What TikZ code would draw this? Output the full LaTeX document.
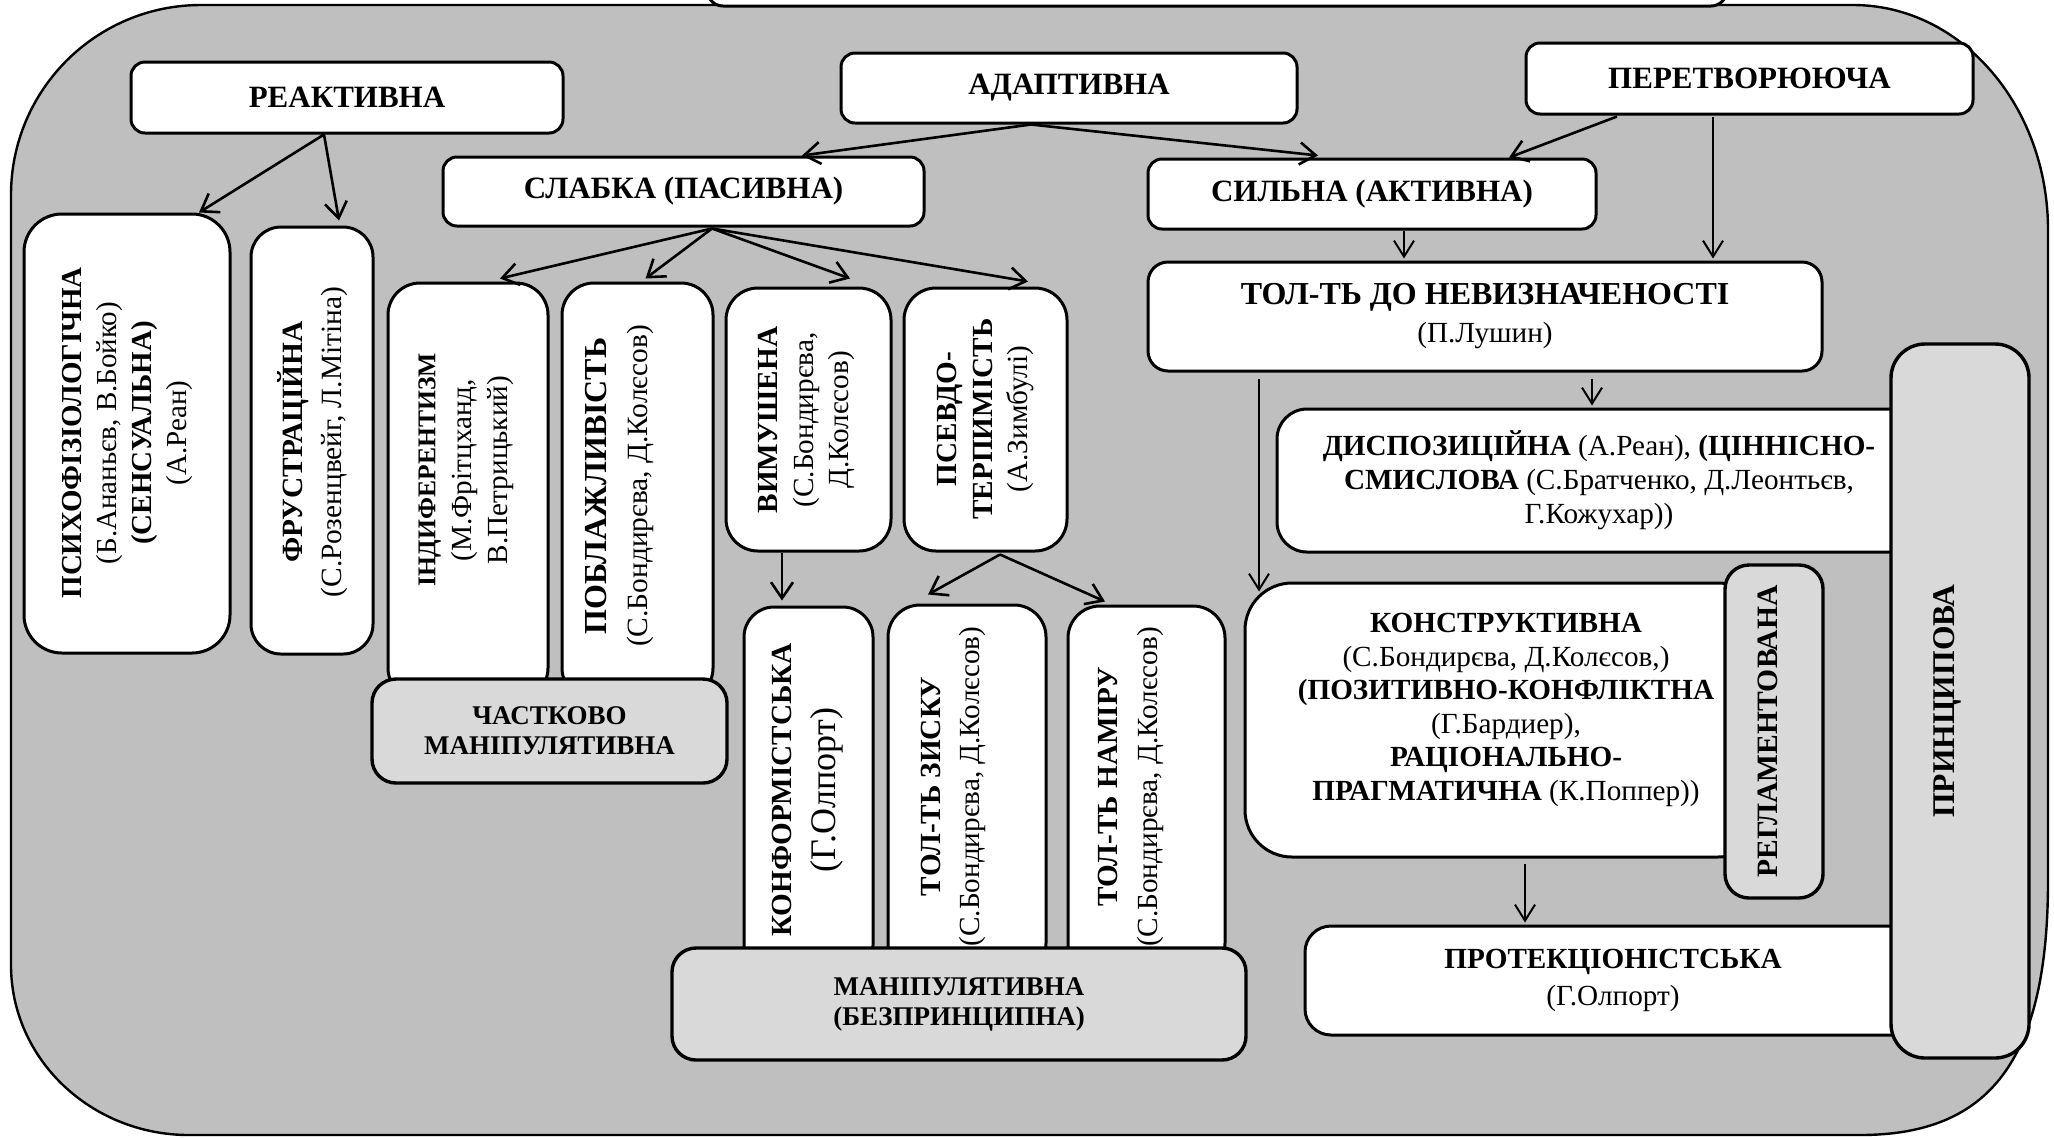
\documentclass[tikz,border=0pt]{standalone}
\usepackage{fontspec}
\usepackage{graphicx}
\setmainfont{Liberation Serif}
\usetikzlibrary{arrows.meta,calc}

\definecolor{fieldgray}{HTML}{BFBFBF}
\definecolor{panelgray}{HTML}{D9D9D9}

\newcommand\hdfont{\fontsize{15.5}{19}\selectfont\bfseries}
\newcommand\txfont{\fontsize{14.6}{17}\selectfont}

\tikzset{
  sz/.style 2 args={minimum width=#1*0.5pt, minimum height=#2*0.5pt},
  rc/.style={rounded corners=#1*0.5pt},
  box/.style={draw, line width=1.5pt, fill=white, inner sep=0pt, align=center},
  panel/.style={box, fill=panelgray, line width=1.7pt},
  vtext/.style={rotate=90, inner sep=0pt, align=center},
  arr/.style={-{Straight Barb[length=8pt,width=11pt]}, line width=1.3pt},
  arrthin/.style={-{Straight Barb[length=8pt,width=10pt]}, line width=1pt},
}

\begin{document}
\begin{tikzpicture}[x=0.5pt,y=-0.5pt]
\useasboundingbox (0,0) rectangle (2054,1137);
\begin{scope}
\clip (0,0) rectangle (2054,1137);

% grey field with unequal rounded corners
\draw[line width=1.2pt, fill=fieldgray]
  (201,5) -- (1853,5) .. controls (1961,5) and (2048,106) .. (2048,230)
  -- (2048,880) .. controls (2048,1060) and (1990,1135) .. (1860,1135)
  -- (189,1135) .. controls (91,1135) and (11,1059) .. (11,965)
  -- (11,195) .. controls (11,90) and (96,5) .. (201,5) -- cycle;

% title box, cut by the upper edge
\node[box, sz={1020}{60}, rc=16] (title) at (1217,-24) {};

% upper level
\node[box, sz={432}{71}, rc=14, font=\hdfont] (reak) at (347,97.5) {РЕАКТИВНА};
\node[box, sz={456}{70}, rc=14, font=\hdfont] (adapt) at (1069,88) {АДАПТИВНА};
\node[box, sz={447}{71}, rc=14, font=\hdfont] (pere) at (1749.5,78.5) {ПЕРЕТВОРЮЮЧА};
\node[box, sz={481}{69}, rc=14, font=\hdfont] (slab) at (683.5,191.5) {СЛАБКА (ПАСИВНА)};
\node[box, sz={448}{70}, rc=14, font=\hdfont] (syl) at (1372,194) {СИЛЬНА (АКТИВНА)};
\node[box, sz={674}{109}, rc=20, font=\fontsize{14.6}{19}\selectfont] (tol) at (1485,316.5)
  {{\fontsize{16}{19}\selectfont\bfseries ТОЛ-ТЬ ДО НЕВИЗНАЧЕНОСТІ}\\(П.Лушин)};

% reactive branch
\node[box, sz={206}{439}, rc=38] (psy) at (127,433.5) {};
\node[vtext, font=\fontsize{14.5}{17.5}\selectfont] (psy-t) at (127,433)
  {\textbf{ПСИХОФІЗІОЛОГІЧНА}\\(Б.Ананьєв, В.Бойко)\\\textbf{(СЕНСУАЛЬНА)}\\(А.Реан)};
\node[box, sz={122}{427}, rc=30] (fru) at (312,440.5) {};
\node[vtext, font=\fontsize{14.7}{19.5}\selectfont] (fru-t) at (312.5,442)
  {\textbf{ФРУСТРАЦІЙНА}\\(С.Розенцвейг, Л.Мітіна)};

% weak (passive) branch
\node[box, sz={160}{417}, rc=32] (ind) at (468,491.5) {};
\node[vtext, font=\fontsize{14.6}{18}\selectfont] (ind-t) at (466,470)
  {{\fontsize{12.8}{18}\selectfont\bfseries ІНДИФЕРЕНТИЗМ}\\(М.Фрітцханд,\\В.Петрицький)};
\node[box, sz={151}{417}, rc=32] (pob) at (637.5,491.5) {};
\node[vtext, font=\fontsize{14.7}{20.5}\selectfont] (pob-t) at (620,486)
  {{\fontsize{16}{20.5}\selectfont\bfseries ПОБЛАЖЛИВІСТЬ}\\(С.Бондирєва, Д.Колєсов)};
\node[panel, sz={355}{104}, rc=24, font=\fontsize{13.5}{15}\selectfont\bfseries] (chast) at (549.5,731)
  {ЧАСТКОВО\\МАНІПУЛЯТИВНА};

\node[box, sz={165}{263}, rc=32] (vym) at (808.5,419.5) {};
\node[vtext, font=\fontsize{14.6}{17.75}\selectfont] (vym-t) at (806.5,420)
  {\textbf{ВИМУШЕНА}\\(С.Бондирєва,\\Д.Колєсов)};
\node[box, sz={163}{263}, rc=32] (psev) at (985.5,419.5) {};
\node[vtext, font=\fontsize{14.6}{17.75}\selectfont] (psev-t) at (985.5,419)
  {\textbf{ПСЕВДО-}\\\textbf{ТЕРПИМІСТЬ}\\(А.Зимбулі)};

\node[box, sz={129}{368}, rc=30] (konf) at (808.5,791) {};
\node[vtext, font=\fontsize{14.6}{22}\selectfont] (konf-t) at (808,790)
  {\textbf{КОНФОРМІСТСЬКА}\\{\fontsize{18}{22}\selectfont(Г.Олпорт)}};
\node[box, sz={158}{370}, rc=32] (zysk) at (967,790) {};
\node[vtext, font=\fontsize{14.6}{19.5}\selectfont] (zysk-t) at (953,786.5)
  {\textbf{ТОЛ-ТЬ ЗИСКУ}\\(С.Бондирєва, Д.Колєсов)};
\node[box, sz={157}{369}, rc=32] (namir) at (1146.5,790.5) {};
\node[vtext, font=\fontsize{14.6}{20}\selectfont] (namir-t) at (1131,787)
  {\textbf{ТОЛ-ТЬ НАМІРУ}\\(С.Бондирєва, Д.Колєсов)};
\node[panel, sz={574}{112}, rc=24, font=\fontsize{13.5}{15}\selectfont\bfseries] (manip) at (959,1004)
  {МАНІПУЛЯТИВНА\\(БЕЗПРИНЦИПНА)};

% strong (active) branch
\node[box, sz={644}{143}, rc=30, font=\txfont] (disp) at (1599,480.5)
  {{\bfseries ДИСПОЗИЦІЙНА} (А.Реан), {\bfseries (ЦІННІСНО-}\\{\bfseries СМИСЛОВА} (С.Братченко, Д.Леонтьєв,\\Г.Кожухар))};
\node[box, sz={520}{274}, rc=47] (konstr) at (1505,720) {};
\node[inner sep=0pt, align=center, font=\fontsize{14.6}{16.8}\selectfont] (konstr-t) at (1506,710)
  {\textbf{КОНСТРУКТИВНА}\\(С.Бондирєва, Д.Колєсов,)\\\textbf{(ПОЗИТИВНО-КОНФЛІКТНА}\\(Г.Бардиер),\\\textbf{РАЦІОНАЛЬНО-}\\\textbf{ПРАГМАТИЧНА} (К.Поппер))};
\node[panel, sz={98}{333}, rc=24] (reg) at (1774,731.5) {};
\node[vtext, font=\fontsize{14.8}{18}\selectfont\bfseries] (reg-t) at (1768,731.5) {РЕГЛАМЕНТОВАНА};
\node[box, sz={616}{109}, rc=26, font=\fontsize{14.6}{18.5}\selectfont] (prot) at (1613,980.5)
  {\textbf{ПРОТЕКЦІОНІСТСЬКА}\\(Г.Олпорт)};
\node[panel, sz={138}{714}, rc=34] (prin) at (1960,701) {};
\node[vtext, font=\fontsize{15.8}{18}\selectfont\bfseries] (prin-t) at (1947,701) {ПРИНЦИПОВА};

% connectors
\draw[arr] ($(reak.south)+(-23,0)$) -- ($(psy.north)+(72,0)$);
\draw[arr] ($(reak.south)+(-23,0)$) -- ($(fru.north)+(27,-5)$);
\draw[arr] ($(adapt.south)+(-38,0)$) -- ($(slab.north)+(118.5,0)$);
\draw[arr] ($(adapt.south)+(-38,0)$) -- ($(syl.north)+(-54,-2)$);
\draw[arr] ($(pere.south)+(-132.5,1)$) -- ($(syl.north)+(137,0)$);
\draw[arrthin] ($(pere.south)+(-36.5,1)$) -- ($(tol.north)+(228,-2)$);
\draw[arrthin] ($(syl.south)+(32,0)$) -- ($(tol.north)+(-81,-2)$);
\draw[arr] ($(slab.south)+(28.5,1)$) -- ($(ind.north)+(32,-3)$);
\draw[arr] ($(slab.south)+(28.5,1)$) -- ($(pob.north)+(8,-3)$);
\draw[arr] ($(slab.south)+(28.5,1)$) -- ($(vym.north)+(41.5,-8)$);
\draw[arr] ($(slab.south)+(28.5,1)$) -- ($(psev.north)+(42.5,-5)$);
\draw[arr] ($(vym.south)+(-26.5,0)$) -- ($(konf.north)+(-26.5,-5)$);
\draw[arr] ($(psev.south)+(14.5,2)$) -- ($(zysk.north)+(-39,-9)$);
\draw[arr] ($(psev.south)+(14.5,2)$) -- ($(namir.north)+(-41.5,-3)$);
\draw[arrthin] ($(tol.south)+(107,6)$) -- ($(disp.north)+(-7,-2)$);
\draw[arrthin] ($(tol.south)+(-226,6)$) -- ($(konstr.north)+(-246,10)$);
\draw[arrthin] ($(konstr.south)+(20,5)$) -- ($(prot.north)+(-88,-2)$);
\end{scope}
\end{tikzpicture}
\end{document}
